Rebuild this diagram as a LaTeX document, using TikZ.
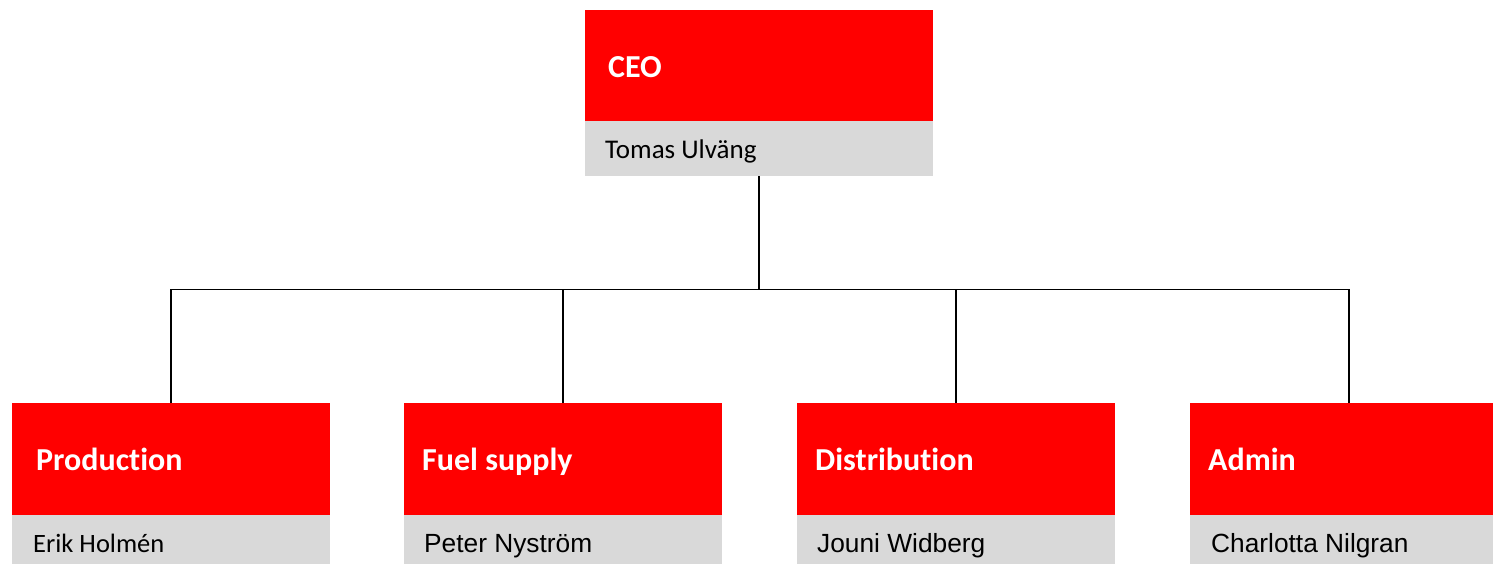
\documentclass[tikz,border=0pt]{standalone}
\usepackage{fontspec}
\setmainfont{Carlito}[Ligatures=NoCommon]
\newfontfamily\arialf{Liberation Sans}
\definecolor{boxred}{HTML}{FF0000}
\definecolor{boxgray}{HTML}{D9D9D9}
\tikzset{
  redbox/.style={fill=boxred, draw=none, inner sep=0pt, anchor=north west, minimum width=318pt, minimum height=112pt},
  graybox/.style={fill=boxgray, draw=none, inner sep=0pt, anchor=north west, minimum width=318pt, minimum height=60pt},
  headtext/.style={text=white, inner sep=0pt, anchor=base west, font=\fontsize{32}{38}\selectfont\bfseries},
  nametext/.style={text=black, inner sep=0pt, anchor=base west, font=\fontsize{26.5}{31}\selectfont},
  arialtext/.style={text=black, inner sep=0pt, anchor=base west, font=\arialf\fontsize{26.3}{31}\selectfont},
  conn/.style={draw=black, line width=1.8pt},
  mainconn/.style={draw=black, line width=2.5pt}
}
\begin{document}
\begin{tikzpicture}[x=1pt,y=-1pt]
\useasboundingbox (0,0) rectangle (1493,563);
% CEO
\node[redbox, minimum width=348pt, minimum height=111pt] (ceo) at (585,10) {};
\node[graybox, minimum width=348pt, minimum height=55pt] (ceog) at (585,121) {};
\node[headtext] (ceot) at (608,77) {CEO};
\node[nametext, font=\fontsize{27}{31}\selectfont] (ceon) at (605,158) {Tomas Ulväng};
% Departments
\node[redbox] (prod) at (12,403) {};
\node[graybox] (prodg) at (12,515) {};
\node[headtext] (prodt) at (36,470) {Production};
\node[nametext] (prodn) at (33,552) {Erik Holmén};

\node[redbox] (fuel) at (404,403) {};
\node[graybox] (fuelg) at (404,515) {};
\node[headtext] (fuelt) at (422,470) {Fuel supply};
\node[arialtext] (fueln) at (424,552) {Peter Nyström};

\node[redbox] (dist) at (797,403) {};
\node[graybox] (distg) at (797,515) {};
\node[headtext] (distt) at (815,470) {Distribution};
\node[arialtext] (distn) at (817,552) {Jouni Widberg};

\node[redbox] (adm) at (1190,403) {};
\node[graybox] (admg) at (1190,515) {};
\node[headtext] (admt) at (1208,470) {Admin};
\node[arialtext] (admn) at (1211,552) {Charlotta Nilgran};
% connectors
\coordinate (bus) at (0,289.5);
\draw[conn] (prod.north) -- (prod.north |- bus) -- (adm.north |- bus) -- (adm.north);
\draw[conn] (fuel.north) -- (fuel.north |- bus);
\draw[conn] (dist.north) -- (dist.north |- bus);
\draw[mainconn] (ceog.south) -- (ceog.south |- bus);
\end{tikzpicture}
\end{document}
